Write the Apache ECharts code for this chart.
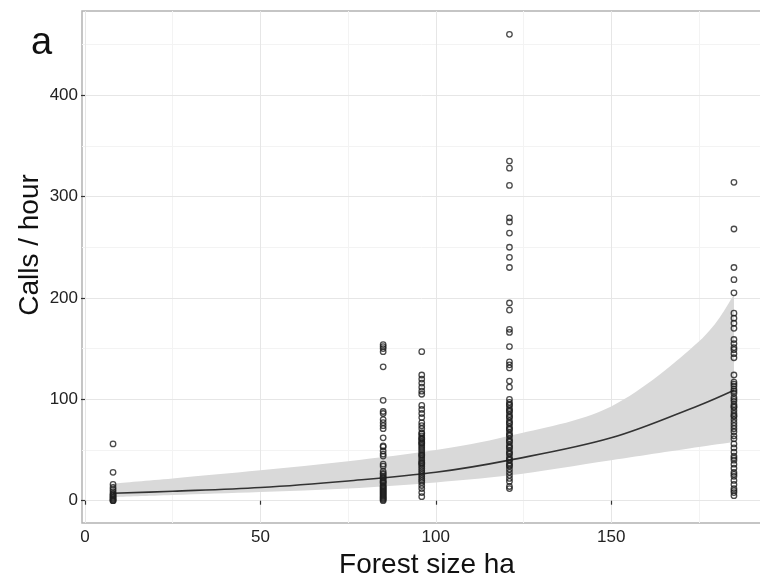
<!DOCTYPE html>
<html>
<head>
<meta charset="utf-8">
<script src="https://cdn.jsdelivr.net/npm/echarts@6/dist/echarts.min.js"></script>
<style>
  body { margin: 0; padding: 0; background: #fff; }
  #chart { width: 760px; height: 584px; }
</style>
</head>
<body>
<div id="chart"></div>
<script>
// forest sizes (ha) with the observed call rates at each site
const siteX = [8, 85, 96, 121, 185];
const calls8 = [56, 28, 16, 13, 11, 9, 7, 6, 5, 4, 3, 2, 1, 0, 0];
const calls85 = [154, 152, 150, 147, 132, 99, 88, 86, 80, 77, 74, 71, 62, 54, 53, 49, 46, 44, 36, 34,
  29, 27, 26, 24, 23, 22, 20, 19, 18, 17, 15, 14, 13, 12, 11, 10, 9, 8, 7, 6, 5, 4, 3, 2, 1, 0];
const calls96 = [147, 124, 120, 116, 112, 108, 105, 94, 90, 86, 82, 77, 74, 71, 67, 66, 64, 62, 61, 60,
  58, 57, 56, 54, 52, 50, 48, 46, 45, 44, 42, 40, 38, 37, 36, 34, 32, 30, 28, 26, 24, 22, 20, 18,
  15, 12, 8, 4];
const calls121 = [460, 335, 328, 311, 279, 275, 264, 250, 240, 230, 195, 188, 169, 166, 152, 137, 134, 131,
  118, 112, 100, 97, 95, 94, 91, 89, 88, 85, 83, 82, 79, 77, 76, 73, 71, 70, 67, 65, 64, 61, 59, 58,
  55, 53, 52, 49, 47, 46, 43, 41, 40, 37, 35, 34, 31, 28, 25, 22, 19, 14, 12];
const calls185 = [314, 268, 230, 218, 205, 185, 180, 175, 170, 159, 155, 151, 149, 145, 141, 124, 117, 115,
  113, 110, 108, 106, 102, 100, 98, 95, 93, 92, 89, 86, 84, 83, 80, 77, 74, 71, 68, 64, 61, 56, 52,
  48, 44, 42, 40, 36, 32, 28, 26, 24, 20, 16, 12, 10, 8, 5];
const siteCalls = [calls8, calls85, calls96, calls121, calls185];

// fitted curve and its confidence band
const fitX = [8, 25, 50, 75, 100, 121, 150, 175, 185];
const fitY = [7.3, 9.3, 13, 19.5, 28, 40, 62, 94, 109];
const bandLow = [3.5, 5.5, 8.5, 12, 18, 25, 40, 53, 58];
const bandHigh = [17, 22, 30, 39, 50, 64, 93, 157, 203];

// axis ticks and grid lines
const xTicks = [0, 50, 100, 150];
const xMinor = [25, 75, 125, 175];
const yTicks = [0, 100, 200, 300, 400];
const yMinor = [50, 150, 250, 350, 450];

const font = "'Liberation Sans', Arial, sans-serif";

let points = [];
siteX.forEach((x, i) => {
  siteCalls[i].forEach(v => points.push([x, v]));
});

// catmull-rom segments through pixel points
function smoothSeg(pts) {
  let d = "";
  for (let i = 0; i < pts.length - 1; i++) {
    const p0 = pts[Math.max(i - 1, 0)], p1 = pts[i], p2 = pts[i + 1];
    const p3 = pts[Math.min(i + 2, pts.length - 1)];
    const c1 = [p1[0] + (p2[0] - p0[0]) / 6, p1[1] + (p2[1] - p0[1]) / 6];
    const c2 = [p2[0] - (p3[0] - p1[0]) / 6, p2[1] - (p3[1] - p1[1]) / 6];
    d += " C" + c1.join(",") + " " + c2.join(",") + " " + p2.join(",");
  }
  return d;
}

function renderBand(params, api) {
  const up = fitX.map((x, i) => api.coord([x, bandHigh[i]]));
  const lo = fitX.map((x, i) => api.coord([x, bandLow[i]])).reverse();
  const d = "M" + up[0].join(",") + smoothSeg(up) + " L" + lo[0].join(",") + smoothSeg(lo) + " Z";
  return {
    type: "path",
    shape: { pathData: d },
    style: { fill: "#d9d9d9" },
  };
}

function gridLines(xs, ys, color) {
  return {
    type: "line",
    data: [],
    silent: true,
    z: 0,
    markLine: {
      z: 0,
      silent: true,
      animation: false,
      symbol: ["none", "none"],
      label: { show: false },
      lineStyle: { color: color, width: 1, type: "solid" },
      emphasis: { disabled: true },
      data: xs.map(v => ({ xAxis: v })).concat(ys.map(v => ({ yAxis: v }))),
    },
  };
}

const chart = echarts.init(document.getElementById("chart"));
chart.setOption({
  animation: false,
  backgroundColor: "#fff",
  grid: {
    left: 82,
    right: -5,
    top: 11,
    bottom: 61,
    outerBoundsMode: "none",
    containLabel: false,
    show: true,
    backgroundColor: "#fff",
    borderColor: "#b3b3b3",
    borderWidth: 1.5,
  },
  xAxis: {
    type: "value",
    min: -0.85,
    max: 193.85,
    axisLine: { show: false },
    splitLine: { show: false },
    axisTick: { show: true, length: 4, customValues: xTicks, lineStyle: { color: "#333", width: 1.2 } },
    axisLabel: { customValues: xTicks, color: "#222", fontSize: 17, fontFamily: font, margin: 6 },
  },
  yAxis: {
    type: "value",
    min: -22,
    max: 483,
    axisLine: { show: false },
    splitLine: { show: false },
    axisTick: { show: true, length: 4, customValues: yTicks, lineStyle: { color: "#333", width: 1.2 } },
    axisLabel: { customValues: yTicks, color: "#222", fontSize: 17, fontFamily: font, margin: 4 },
  },
  graphic: [
    {
      type: "text", left: 31, top: 25,
      style: { text: "a", fontSize: 38, fontFamily: font, fill: "#111" },
    },
    {
      type: "text", x: 30, y: 245, rotation: Math.PI / 2,
      style: { text: "Calls / hour", fontSize: 28, fontFamily: font, fill: "#111", align: "center", verticalAlign: "middle" },
    },
    {
      type: "text", x: 427, y: 565,
      style: { text: "Forest size ha", fontSize: 28, fontFamily: font, fill: "#111", align: "center", verticalAlign: "middle" },
    },
  ],
  series: [
    gridLines(xMinor, yMinor, "#f3f3f3"),
    gridLines(xTicks, yTicks, "#e6e6e6"),
    {
      type: "custom",
      z: 1,
      silent: true,
      data: [[0, 0]],
      renderItem: renderBand,
    },
    {
      type: "line",
      z: 3,
      silent: true,
      data: fitX.map((x, i) => [x, fitY[i]]),
      smooth: 0.35,
      showSymbol: false,
      lineStyle: { color: "#333", width: 1.6 },
    },
    {
      type: "scatter",
      z: 4,
      silent: true,
      data: points,
      symbol: "circle",
      symbolSize: 5.5,
      itemStyle: { color: "rgba(0,0,0,0)", borderColor: "#1e1e1e", borderWidth: 1.3 },
    },
  ],
});
</script>
</body>
</html>
